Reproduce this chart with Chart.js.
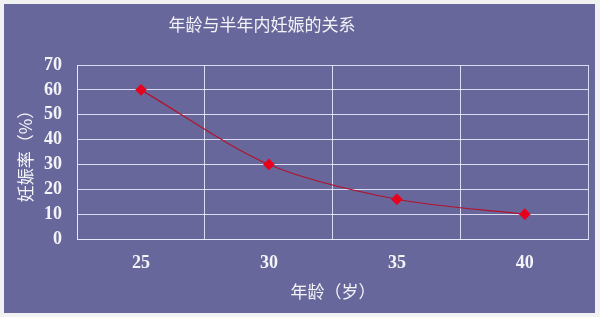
<!DOCTYPE html>
<html>
<head>
<meta charset="utf-8">
<script src="https://cdn.jsdelivr.net/npm/chart.js@4"></script>
<style>
  body { margin: 0; background: #f2f2f2; }
  #wrap { width: 591px; height: 309px; padding: 4px 5px 4px 4px; }
  canvas { background: #67679b; }
</style>
</head>
<body>
<div id="wrap"><canvas id="lineChart" width="591" height="309"></canvas></div>
<script>
const chartTitle = "年龄与半年内妊娠的关系";
const ages = ["25", "30", "35", "40"];
const pregnancyRate = [60, 30, 16, 10];
const yTitle = "妊娠率（%）";
const xTitle = "年龄（岁）";

const numFont = { family: "'Liberation Serif', 'DejaVu Serif', serif", size: 18, weight: "bold" };
const cjkFont = { family: "'Noto Sans CJK SC', sans-serif", size: 17 };
const gridColor = "rgba(232, 232, 252, 0.9)";

// title sits a bit left of centre in the original, so draw it by hand
const titlePlugin = {
    id: "offTitle",
    afterDraw(chart) {
        const ctx = chart.ctx;
        ctx.save();
        ctx.fillStyle = "#f4f4f8";
        ctx.font = "17px 'Noto Sans CJK SC', sans-serif";
        ctx.textAlign = "center";
        ctx.textBaseline = "middle";
        ctx.fillText(chartTitle, 258, 21);
        ctx.restore();
    }
};

const lineChart = new Chart(document.getElementById("lineChart"), {
    type: "line",
    data: {
        labels: ages,
        datasets: [{
            data: pregnancyRate,
            borderColor: "#b3122e",
            borderWidth: 1.2,
            tension: 0.3,
            pointStyle: "rectRot",
            pointRadius: 5,
            pointBackgroundColor: "#e8001c",
            pointBorderColor: "#e8001c"
        }]
    },
    options: {
        responsive: false,
        animation: false,
        layout: { padding: { top: 61, right: 6, left: 0, bottom: 0 } },
        plugins: {
            legend: { display: false },
            tooltip: { enabled: false }
        },
        scales: {
            x: {
                offset: true,
                grid: { offset: true, color: gridColor, drawTicks: false },
                border: { color: gridColor },
                ticks: { color: "#f4f4f8", font: numFont, padding: 14 },
                title: { display: true, text: xTitle, color: "#f4f4f8", font: cjkFont, padding: { top: 0, bottom: 11 } },
                afterFit(scale) { scale.height = 74; }
            },
            y: {
                min: 0,
                max: 70,
                ticks: { stepSize: 10, color: "#f4f4f8", font: numFont, padding: 15 },
                grid: { color: gridColor, drawTicks: false },
                border: { color: gridColor },
                title: { display: true, text: yTitle, color: "#f4f4f8", font: cjkFont, padding: { top: 11, bottom: 0 } },
                afterFit(scale) { scale.width = 73; }
            }
        }
    },
    plugins: [titlePlugin]
});
</script>
</body>
</html>
